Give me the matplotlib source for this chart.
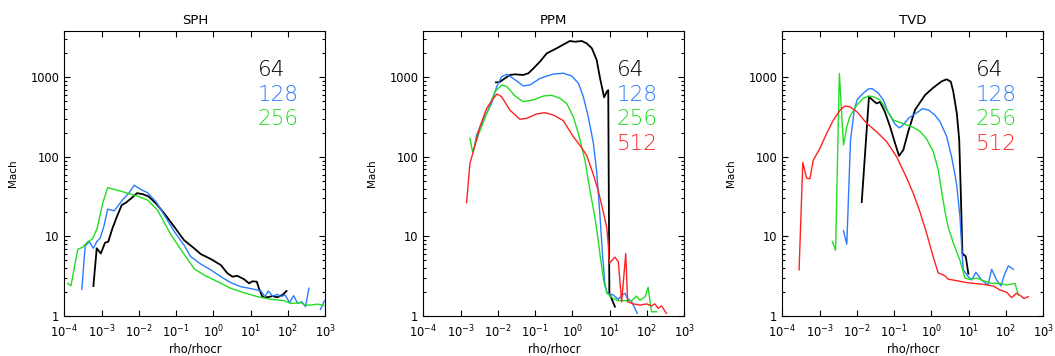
import matplotlib
matplotlib.use('Agg')
import matplotlib.pyplot as plt
import numpy as np
from matplotlib.ticker import FixedLocator, FixedFormatter, NullLocator, NullFormatter, LogLocator

# ---------------- data ----------------
titles = ['SPH', 'PPM', 'TVD']
labels = ['64', '128', '256', '512']
colors = ['black', '#2a7cff', '#22dd22', '#ff2222']

# SPH
sph_64_x = [6.03e-4, 7.41e-4, 9.55e-4, 1.23e-3, 1.51e-3, 1.95e-3, 2.57e-3, 3.47e-3, 4.47e-3, 6.17e-3,
            8.91e-3, 1.26e-2, 1.78e-2, 2.88e-2, 4.79e-2, 8.91e-2, 0.162, 0.302, 0.457, 0.851,
            1.58, 2.37, 3.24, 4.37, 6.61, 9.02, 11.0, 14.5, 16.6, 20.4, 28.2, 38.0, 51.3, 70.8, 91.2]
sph_64_y = [2.38, 7.1, 6.1, 8.3, 8.6, 12.6, 17.7, 24.8, 26.5, 30, 35, 34, 32, 26, 19.5, 13.2, 9.0, 7.1,
            6.0, 5.2, 4.37, 3.44, 3.12, 3.2, 2.9, 2.57, 2.73, 2.7, 2.23, 1.75, 1.72, 1.78, 1.72, 1.84, 2.06]

sph_128_x = [2.95e-4, 3.63e-4, 4.68e-4, 6.03e-4, 7.41e-4, 9.12e-4, 1.15e-3, 1.45e-3, 2.19e-3, 3.63e-3,
             5.50e-3, 7.50e-3, 1.12e-2, 1.70e-2, 2.88e-2, 4.79e-2, 8.91e-2, 0.162, 0.245, 0.457,
             0.851, 1.58, 2.88, 5.37, 9.02, 15.1, 19.1, 24.0, 29.5, 38.9, 52.5, 64.6, 83.2, 110,
             141, 182, 234, 295, 363, np.nan, 741, 955]
sph_128_y = [2.16, 7.6, 8.6, 7.1, 8.6, 9.5, 13.3, 22, 21, 28.7, 35.5, 44, 39, 35.5, 27.3, 18.6, 11.5,
             7.8, 5.57, 4.5, 3.8, 3.12, 2.63, 2.34, 2.23, 2.12, 2.05, 1.75, 2.06, 1.78, 1.87, 1.75,
             1.84, 1.47, 1.8, 1.44, 1.51, 1.31, 2.23, np.nan, 1.21, 1.56]

sph_256_x = [1.23e-4, 1.51e-4, 2.29e-4, 3.09e-4, 4.27e-4, 5.75e-4, 7.59e-4, 1.07e-3, 1.45e-3, 2.95e-3,
             9.33e-3, 1.70e-2, 3.16e-2, 7.24e-2, 0.151, 0.309, 0.562, 1.29, 2.88, 6.61, 15.1, 34.7,
             77.6, 117, 219, 295, 398, 617, 912]
sph_256_y = [2.57, 2.4, 6.9, 7.3, 8.6, 9.3, 12.6, 26, 41, 37.6, 32, 28.7, 21.4, 10.5, 6.3, 3.9, 3.27,
             2.7, 2.23, 1.96, 1.75, 1.62, 1.56, 1.44, 1.47, 1.37, 1.37, 1.41, 1.36]

# PPM
ppm_64_x = [8.91e-3, 1.10e-2, 1.55e-2, 2.09e-2, 2.88e-2, 4.79e-2, 6.61e-2, 8.91e-2, 0.135, 0.204,
            0.380, 0.851, 1.17, 1.78, 2.40, 3.31, 4.47, 5.50, 7.08, 8.32, 9.12, 9.77, 13.8]
ppm_64_y = [865, 870, 972, 1070, 1090, 1070, 1125, 1290, 1575, 2000, 2320, 2860, 2800, 2860, 2675,
            2320, 1650, 972, 561, 660, 690, 1.93, 1.31]

ppm_128_x = [2.40e-3, 2.69e-3, 4.07e-3, 6.76e-3, 9.33e-3, 1.26e-2, 1.74e-2, 2.57e-2, 4.79e-2, 7.24e-2,
             0.135, 0.309, 0.569, 0.955, 1.45, 1.95, 2.66, 3.63, 4.47, 5.50, 6.46, 7.41, 8.51, 12.4,
             17.0, 20.9, 25.7, 30.2, 38.9, 55.0]
ppm_128_y = [140, 188, 290, 470, 765, 1020, 1090, 970, 780, 800, 970, 1100, 1125, 1040, 840, 573, 320,
             150, 65, 17.7, 5.6, 2.57, 1.93, 1.84, 1.62, 1.8, 1.93, 1.66, 1.51, 1.08]

ppm_256_x = [1.78e-3, 2.09e-3, 2.99e-3, 5.01e-3, 8.32e-3, 1.26e-2, 1.74e-2, 2.88e-2, 4.79e-2, 8.91e-2,
             0.166, 0.275, 0.462, 0.700, 1.05, 1.44, 2.16, 2.95, 3.98, 4.90, 5.75, 7.08, 8.51, 12.4,
             17.0, 28.2, 38.9, 52.5, 64.6, 89.1, 107, 132, 182]
ppm_256_y = [171, 116, 188, 352, 660, 800, 765, 582, 494, 519, 582, 595, 545, 470, 320, 198, 91, 38,
             17.7, 9.0, 5.0, 2.57, 1.93, 1.66, 1.56, 1.56, 1.56, 1.78, 1.58, 1.75, 2.29, 1.13, 1.13]

ppm_512_x = [1.45e-3, 1.78e-3, 2.19e-3, 3.31e-3, 5.01e-3, 7.59e-3, 9.55e-3, 1.26e-2, 2.09e-2, 3.89e-2,
             5.89e-2, 0.110, 0.182, 0.309, 0.569, 1.05, 1.58, 2.40, 3.63, 4.90, 6.76, 8.32, 9.12, 9.77,
             13.8, 17.0, 20.9, 26.9, 30.2, 42.7, 64.6, 97.7, 132, 162, 200, 245, 331]
ppm_512_y = [26.6, 83, 116, 240, 408, 545, 617, 571, 388, 297, 305, 347, 359, 336, 285, 180, 140, 105,
             60, 38, 20, 13, 8, 4.6, 5.5, 4.8, 1.51, 6.1, 1.51, 1.42, 1.37, 1.42, 1.34, 1.42, 1.25,
             1.34, 1.08]

# TVD
tvd_64_x = [1.35e-2, 2.11e-2, 2.75e-2, 3.39e-2, 4.17e-2, 5.62e-2, 7.76e-2, 0.105, 0.135, 0.176, 0.240,
            0.363, 0.676, 1.12, 1.88, 2.57, 3.31, 3.85, 4.79, 5.56, 6.17, 6.76, 8.32, 9.77]
tvd_64_y = [27, 571, 508, 470, 490, 370, 240, 150, 103, 122, 210, 390, 600, 740, 890, 945, 880, 660,
            353, 163, 31.6, 6.1, 5.6, 3.4]

tvd_128_x = [4.37e-3, 5.37e-3, 6.76e-3, 8.51e-3, 1.02e-2, 1.48e-2, 2.04e-2, 2.57e-2, 3.72e-2, 5.13e-2,
             6.92e-2, 0.105, 0.138, 0.182, 0.240, 0.324, 0.447, 0.575, 0.832, 1.23, 1.70, 2.57, 3.47,
             4.27, 4.79, 5.82, 6.46, 7.16, 9.77, 12.0, 15.5, 22.4, 33.1, 41.2, 56.2, 73.3, 88.1, 115,
             157]
tvd_128_y = [11.8, 8.0, 163, 388, 525, 630, 715, 720, 636, 519, 362, 258, 231, 258, 305, 336, 370, 404,
             388, 336, 277, 180, 100, 60, 43, 17.7, 7.4, 3.8, 3.12, 2.83, 3.54, 2.83, 2.45, 3.86, 2.83,
             2.38, 3.18, 4.26, 3.86]

tvd_256_x = [2.19e-3, 2.69e-3, 3.39e-3, 4.37e-3, 5.37e-3, 6.46e-3, 1.0e-2, 1.48e-2, 2.04e-2, 2.75e-2,
             4.17e-2, 6.31e-2, 9.55e-2, 0.176, 0.324, 0.490, 0.741, 1.12, 1.51, 1.86, 2.29, 2.82, 3.85,
             5.82, 7.94, 10.7, 16.2, 24.5, 41.2, 69.2, 105, 174, 214]
tvd_256_y = [8.6, 6.7, 1120, 141, 240, 320, 449, 544, 582, 571, 519, 388, 290, 262, 235, 210, 168, 116,
             70, 38, 21, 13, 8.3, 5.0, 3.0, 2.88, 3.0, 2.78, 2.57, 2.57, 2.45, 2.57, 1.84]

tvd_512_x = [2.82e-4, 3.55e-4, 4.47e-4, 5.50e-4, 6.76e-4, 1.02e-3, 1.55e-3, 2.34e-3, 3.55e-3, 4.79e-3,
             6.46e-3, 1.0e-2, 1.82e-2, 3.39e-2, 6.31e-2, 0.117, 0.214, 0.324, 0.490, 0.741, 1.12, 1.51,
             2.29, 2.82, 3.85, 8.71, 24.5, 45.7, 69.2, 105, 141, 191, 245, 302, 398]
tvd_512_y = [3.8, 85, 54, 53, 91, 128, 198, 290, 388, 436, 427, 370, 265, 207, 155, 100, 55, 35, 20.5,
             11, 5.5, 3.5, 3.2, 2.9, 2.83, 2.63, 2.5, 2.38, 2.12, 1.98, 1.70, 1.93, 1.8, 1.66, 1.75]

panels = [
    [(sph_64_x, sph_64_y), (sph_128_x, sph_128_y), (sph_256_x, sph_256_y)],
    [(ppm_64_x, ppm_64_y), (ppm_128_x, ppm_128_y), (ppm_256_x, ppm_256_y), (ppm_512_x, ppm_512_y)],
    [(tvd_64_x, tvd_64_y), (tvd_128_x, tvd_128_y), (tvd_256_x, tvd_256_y), (tvd_512_x, tvd_512_y)],
]

xticks = [1e-4, 1e-3, 1e-2, 1e-1, 1e0, 1e1, 1e2, 1e3]
yticks = [1, 10, 100, 1000]
ytick_labels = ['1', '10', '100', '1000']

# ---------------- figure ----------------
plt.rcParams['font.family'] = ['DejaVu Sans']
W, H = 1055, 356
fig = plt.figure(figsize=(W / 100, H / 100), dpi=100)
lefts = [64.3, 423.3, 782.3]
legend_y = [0.842, 0.754, 0.670, 0.582]

for i, ax_left in enumerate(lefts):
    ax = fig.add_axes([ax_left / W, 40 / H, 261 / W, 285 / H])
    ax.set_xscale('log')
    ax.set_yscale('log')
    for j, (xs, ys) in enumerate(panels[i]):
        ax.plot(xs, ys, color=colors[j], lw=1.3 if j == 0 else 1.0)
        ax.text(0.74, legend_y[j], labels[j], transform=ax.transAxes, color=colors[j],
                fontsize=15.5, fontweight='light', ha='left', va='baseline')
    ax.set_xlim(1e-4, 1e3)
    ax.set_ylim(1, 3820)
    ax.xaxis.set_major_locator(FixedLocator(xticks))
    ax.xaxis.set_minor_locator(NullLocator())
    ax.yaxis.set_major_locator(FixedLocator(yticks))
    ax.yaxis.set_major_formatter(FixedFormatter(ytick_labels))
    ax.yaxis.set_minor_locator(LogLocator(base=10, subs=np.arange(2, 10)))
    ax.yaxis.set_minor_formatter(NullFormatter())
    ax.tick_params(which='both', direction='in', top=True, right=True, labelsize=8.3)
    ax.tick_params(axis='x', pad=5.5)
    ax.tick_params(axis='y', pad=3.5)
    ax.tick_params(which='major', length=4.3, width=0.8)
    ax.tick_params(which='minor', length=2.4, width=0.8)
    for s in ax.spines.values():
        s.set_linewidth(0.8)
    ax.set_title(titles[i], fontsize=9.5, pad=5)
    ax.set_xlabel('rho/rhocr', fontsize=8.3)
    ax.set_ylabel('Mach', fontsize=7.5)
    ax.xaxis.set_label_coords(0.5, -0.092)
    ax.yaxis.set_label_coords(-0.178, 0.5)

fig.savefig('out.png', dpi=100)
